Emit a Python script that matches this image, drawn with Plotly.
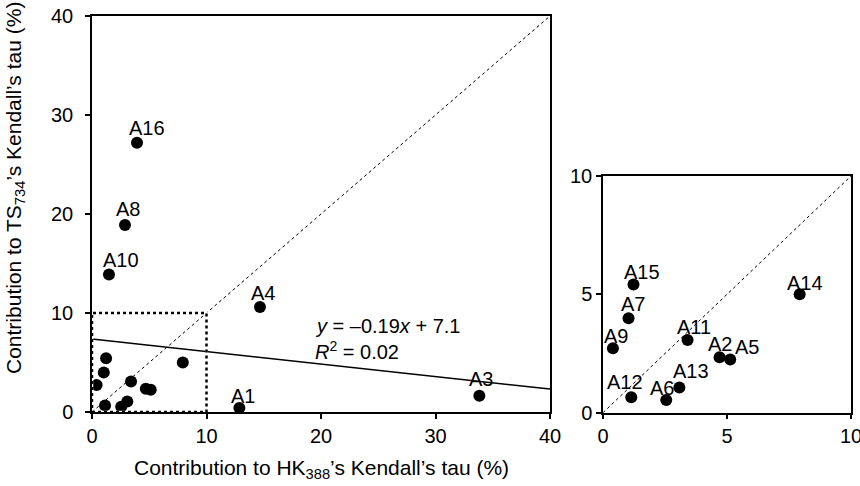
import plotly.graph_objects as go

# ---------------- data ----------------
labels = ["A1", "A2", "A3", "A4", "A5", "A6", "A7", "A8", "A9", "A10",
          "A11", "A12", "A13", "A14", "A15", "A16"]
hk388 = [12.87, 4.70, 33.83, 14.67, 5.13, 2.55, 1.03, 2.88, 0.40, 1.48,
         3.41, 1.14, 3.08, 7.93, 1.23, 3.93]
ts734 = [0.40, 2.34, 1.65, 10.60, 2.25, 0.54, 3.99, 18.90, 2.72, 13.90,
         3.07, 0.65, 1.06, 5.00, 5.42, 27.20]

main_labeled = ["A16", "A8", "A10", "A4", "A1", "A3"]
inset_labeled = ["A15", "A7", "A9", "A11", "A2", "A5", "A14", "A13", "A12", "A6"]

trend_x = [0, 40]
trend_y = [7.37, 2.32]
equation_text = "<i>y</i> = \u20130.19<i>x</i> + 7.1"
r2_text = "<i>R</i><sup>2</sup> = 0.02"

main_ticks = [0, 10, 20, 30, 40]
inset_ticks = [0, 5, 10]
zoom_box = [0, 10]

# label offsets in px (style only)
label_shift = {
    "A16": (10, 15), "A8": (3, 16), "A10": (12, 14), "A4": (3, 14),
    "A1": (4, 12), "A3": (2, 17),
    "A15": (8, 12), "A7": (4, 14), "A9": (3, 12), "A11": (6, 13),
    "A2": (0, 13), "A5": (17, 12), "A14": (5, 11), "A13": (12, 17),
    "A12": (-6, 15), "A6": (-4, 12),
}

FONT = "Arial, Liberation Sans, sans-serif"
FS = 20
FT = 21
W, H = 860, 486

fig = go.Figure()

# diagonal 1:1 lines
fig.add_trace(go.Scatter(x=[main_ticks[0], main_ticks[-1]], y=[main_ticks[0], main_ticks[-1]],
                         mode="lines", line=dict(color="black", width=1, dash="dot"),
                         xaxis="x", yaxis="y", hoverinfo="skip"))
fig.add_trace(go.Scatter(x=[inset_ticks[0], inset_ticks[-1]], y=[inset_ticks[0], inset_ticks[-1]],
                         mode="lines", line=dict(color="black", width=1, dash="dot"),
                         xaxis="x2", yaxis="y2", hoverinfo="skip"))
# trend line
fig.add_trace(go.Scatter(x=trend_x, y=trend_y, mode="lines",
                         line=dict(color="black", width=1.5),
                         xaxis="x", yaxis="y", hoverinfo="skip"))
# points
fig.add_trace(go.Scatter(x=hk388, y=ts734, mode="markers",
                         marker=dict(color="black", size=12),
                         xaxis="x", yaxis="y", cliponaxis=False))
ix = [hk388[i] for i, l in enumerate(labels) if l in inset_labeled]
iy = [ts734[i] for i, l in enumerate(labels) if l in inset_labeled]
fig.add_trace(go.Scatter(x=ix, y=iy, mode="markers",
                         marker=dict(color="black", size=12),
                         xaxis="x2", yaxis="y2", cliponaxis=False))

annotations = []
for i, l in enumerate(labels):
    if l in main_labeled:
        xr, yr = "x", "y"
    elif l in inset_labeled:
        xr, yr = "x2", "y2"
    else:
        continue
    dx, dy = label_shift[l]
    annotations.append(dict(x=hk388[i], y=ts734[i], xref=xr, yref=yr, text=l,
                            showarrow=False, xshift=dx, yshift=dy,
                            font=dict(family=FONT, size=FS, color="black")))

annotations.append(dict(x=19.3, y=8.7, xref="x", yref="y", text=equation_text,
                        showarrow=False, xanchor="left",
                        font=dict(family=FONT, size=FS, color="black")))
annotations.append(dict(x=19.3, y=6.2, xref="x", yref="y", text=r2_text,
                        showarrow=False, xanchor="left",
                        font=dict(family=FONT, size=FS, color="black")))
# axis titles
annotations.append(dict(x=321 / W, y=1 - 469 / H, xref="paper", yref="paper",
                        xanchor="center", yanchor="middle",
                        text="Contribution to HK<sub>388</sub>\u2019s Kendall\u2019s tau (%)",
                        showarrow=False, font=dict(family=FONT, size=FT, color="black")))
annotations.append(dict(x=15 / W, y=1 - 188 / H, xref="paper", yref="paper",
                        xanchor="center", yanchor="middle",
                        text="Contribution to TS<sub>734</sub>\u2019s Kendall\u2019s tau (%)",
                        textangle=-90, showarrow=False,
                        font=dict(family=FONT, size=FT, color="black")))

shapes = []
for col, dash, wd in [("white", "solid", 2.5), ("black", "dot", 2.5)]:
    shapes.append(dict(type="rect", xref="x", yref="y",
                       x0=zoom_box[0], y0=zoom_box[0], x1=zoom_box[1], y1=zoom_box[1],
                       line=dict(color=col, width=wd, dash=dash), layer="above"))

axis_common = dict(showline=True, linecolor="black", linewidth=1.5, mirror=True,
                   ticks="outside", ticklen=5, tickwidth=1.5, tickcolor="black",
                   showgrid=False, zeroline=False, automargin=False,
                   ticklabeloverflow="allow",
                   tickfont=dict(family=FONT, size=FS, color="black"))

fig.update_layout(
    width=W, height=H,
    margin=dict(l=0, r=0, t=0, b=0, autoexpand=False),
    paper_bgcolor="white", plot_bgcolor="white",
    showlegend=False,
    xaxis=dict(domain=[92 / W, 550 / W], range=[0, 40], tickvals=main_ticks,
               anchor="y", **axis_common),
    yaxis=dict(domain=[1 - 412 / H, 1 - 16 / H], range=[0, 40], tickvals=main_ticks,
               anchor="x", ticklabelstandoff=8, **axis_common),
    xaxis2=dict(domain=[603 / W, 851 / W], range=[0, 10], tickvals=inset_ticks,
                anchor="y2", **axis_common),
    yaxis2=dict(domain=[1 - 412.7 / H, 1 - 176 / H], range=[0, 10], tickvals=inset_ticks,
                anchor="x2", **axis_common),
    annotations=annotations,
    shapes=shapes,
)

fig.write_html("out.html", config={"displayModeBar": False},
               post_script="document.body.style.margin='0';document.body.style.overflow='hidden';")
